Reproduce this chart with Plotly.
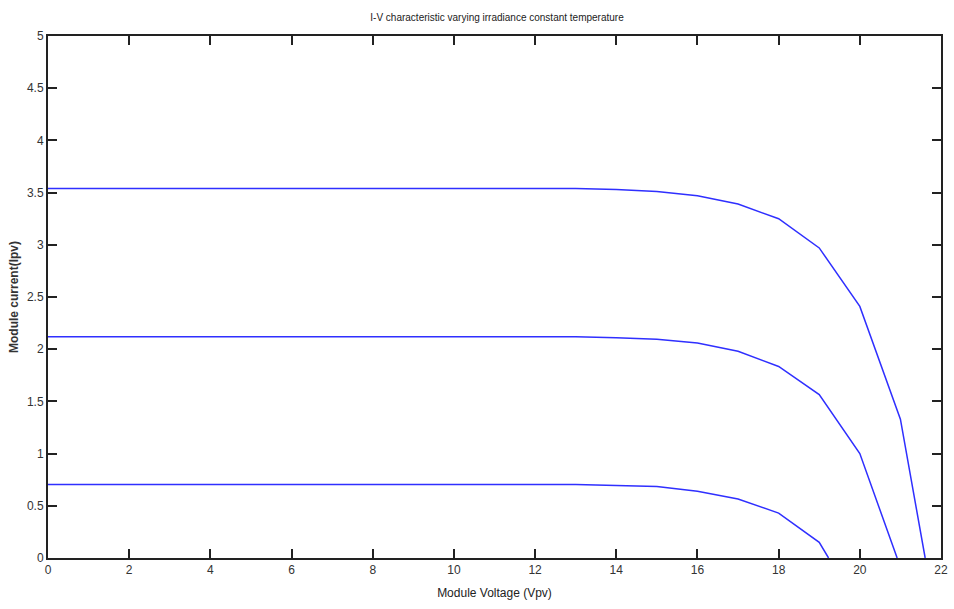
import plotly.graph_objects as go

# Module voltage samples (V)
v_top = [0, 1, 2, 3, 4, 5, 6, 7, 8, 9, 10, 11, 12, 13, 14, 15, 16, 17, 18, 19, 20, 21, 21.61]
i_top = [3.54, 3.54, 3.54, 3.54, 3.54, 3.54, 3.54, 3.54, 3.54, 3.54, 3.54, 3.54, 3.54, 3.54, 3.53, 3.51, 3.47, 3.39, 3.25, 2.97, 2.41, 1.33, 0.0]

v_mid = [0, 1, 2, 3, 4, 5, 6, 7, 8, 9, 10, 11, 12, 13, 14, 15, 16, 17, 18, 19, 20, 20.92]
i_mid = [2.12, 2.12, 2.12, 2.12, 2.12, 2.12, 2.12, 2.12, 2.12, 2.12, 2.12, 2.12, 2.12, 2.12, 2.11, 2.095, 2.06, 1.98, 1.835, 1.565, 1.0, 0.0]

v_low = [0, 1, 2, 3, 4, 5, 6, 7, 8, 9, 10, 11, 12, 13, 14, 15, 16, 17, 18, 19, 19.23]
i_low = [0.705, 0.705, 0.705, 0.705, 0.705, 0.705, 0.705, 0.705, 0.705, 0.705, 0.705, 0.705, 0.705, 0.703, 0.695, 0.685, 0.64, 0.565, 0.43, 0.15, 0.0]

x_ticks = [0, 2, 4, 6, 8, 10, 12, 14, 16, 18, 20, 22]
y_ticks = [0, 0.5, 1, 1.5, 2, 2.5, 3, 3.5, 4, 4.5, 5]

FONT = "Liberation Sans Narrow, Arial Narrow, Liberation Sans, Arial, sans-serif"
LINE = "#2f2fff"

fig = go.Figure()
for v, i in [(v_top, i_top), (v_mid, i_mid), (v_low, i_low)]:
    fig.add_trace(go.Scatter(x=v, y=i, mode="lines",
                             line=dict(color=LINE, width=1.5),
                             showlegend=False, hoverinfo="x+y"))

axis_common = dict(
    showgrid=False, zeroline=False,
    showline=True, linecolor="#222", linewidth=2, mirror="ticks",
    ticks="inside", ticklen=9, tickwidth=2, tickcolor="#222",
    tickfont=dict(family=FONT, size=12, color="#333"),
)

fig.update_layout(
    width=954, height=609,
    margin=dict(l=48, r=6, t=36, b=51),
    paper_bgcolor="white", plot_bgcolor="white",
    title=dict(text="I-V characteristic varying irradiance constant temperature",
               x=0.521, xanchor="center", y=0.972, yanchor="middle",
               font=dict(family=FONT, size=10, color="#222")),
    xaxis=dict(range=[0, 22], tickvals=x_ticks,
               title=dict(text="Module Voltage (Vpv)", standoff=12,
                          font=dict(family=FONT, size=12, color="#222")),
               **axis_common),
    yaxis=dict(range=[0, 5], tickvals=y_ticks,
               title=dict(text="<b>Module current(Ipv)</b>", standoff=6,
                          font=dict(family="Liberation Sans, Arial, sans-serif", size=12, color="#333")),
               **axis_common),
)

fig.write_html("out.html")
